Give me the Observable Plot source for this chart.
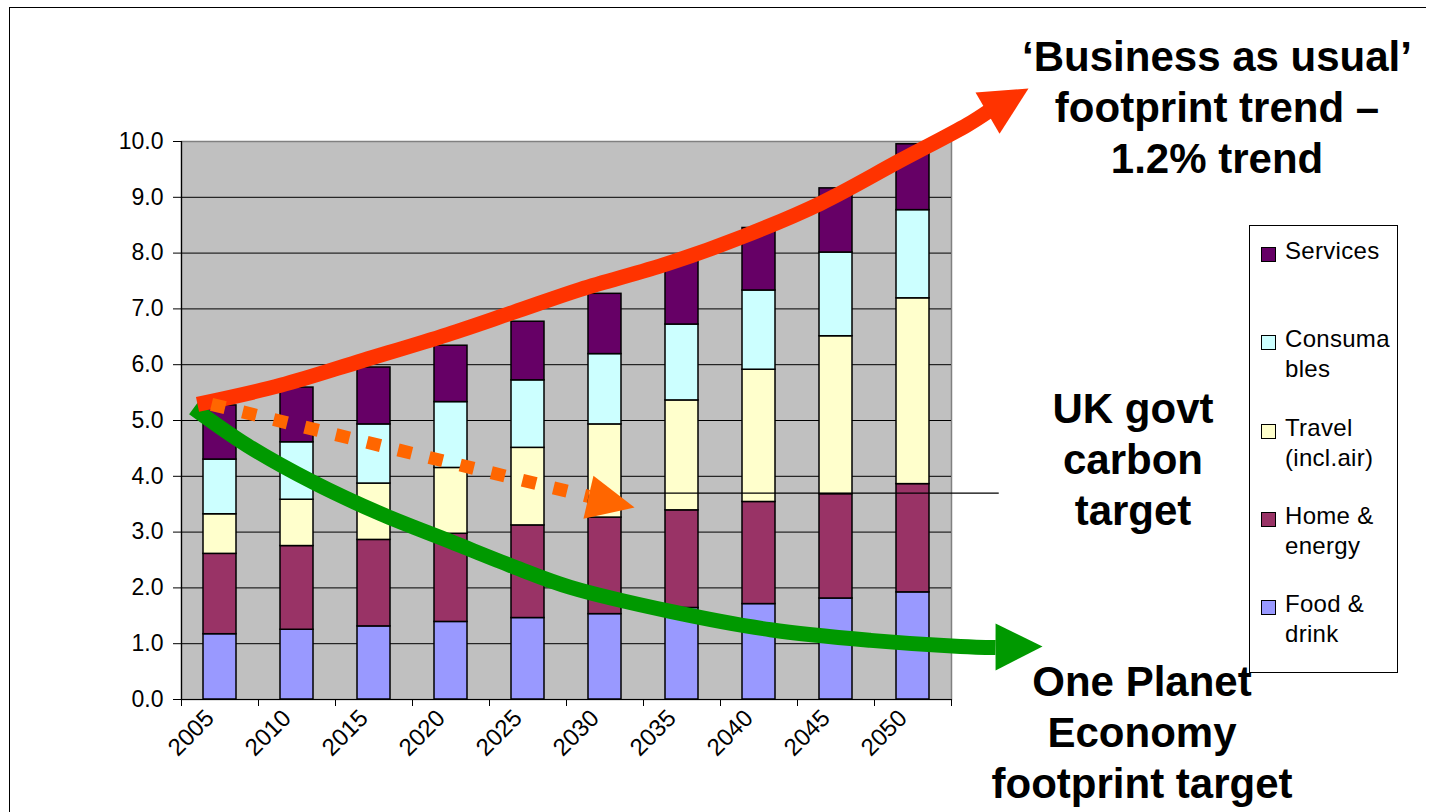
<!DOCTYPE html>
<html><head><meta charset="utf-8">
<script src="https://cdn.jsdelivr.net/npm/d3@7"></script>
<script src="https://cdn.jsdelivr.net/npm/@observablehq/plot@0.6"></script>
<style>
body{margin:0;background:#fff;}
#wrap{position:relative;width:1440px;height:812px;overflow:hidden;font-family:"Liberation Sans",Arial,sans-serif;background:#fff;}
#wrap svg{position:absolute;left:0;top:0;}
.border{position:absolute;left:9px;top:7px;width:1416px;height:900px;border-left:1px solid #000;border-top:1px solid #000;}
.note{position:absolute;font-weight:bold;font-size:42px;line-height:51px;text-align:center;color:#000;white-space:nowrap;transform:translateX(-50%);}
#legend{position:absolute;left:1249px;top:225px;width:147px;height:446px;border:1px solid #000;background:#fff;}
.sw{position:absolute;left:11px;width:13px;height:13px;border:1px solid #000;}
.lt{position:absolute;left:35px;font-size:24px;line-height:30px;letter-spacing:0.3px;color:#000;white-space:nowrap;}
</style></head>
<body><div id="wrap"><div class="border"></div></div>
<script>
// ---- data ----
const years = [2005, 2010, 2015, 2020, 2025, 2030, 2035, 2040, 2045, 2050];
const categories = ["Food & drink", "Home & energy", "Travel (incl.air)", "Consumables", "Services"];
const colors = ["#9999FF", "#993366", "#FFFFCC", "#CCFFFF", "#660066"];
const foodDrink   = [1.17, 1.25, 1.31, 1.39, 1.46, 1.53, 1.64, 1.71, 1.81, 1.92];
const homeEnergy  = [1.44, 1.50, 1.55, 1.58, 1.66, 1.73, 1.75, 1.83, 1.87, 1.94];
const travel      = [0.71, 0.83, 1.01, 1.18, 1.39, 1.67, 1.97, 2.37, 2.83, 3.33];
const consumables = [0.98, 1.03, 1.06, 1.18, 1.21, 1.26, 1.36, 1.42, 1.50, 1.58];
const services    = [0.97, 0.98, 1.02, 1.01, 1.05, 1.08, 1.16, 1.12, 1.15, 1.18];
const legendOrder = ["Services", "Consumables", "Travel (incl.air)", "Home & energy", "Food & drink"];
const legendLines = {
  "Services": ["Services"],
  "Consumables": ["Consuma", "bles"],
  "Travel (incl.air)": ["Travel", "(incl.air)"],
  "Home & energy": ["Home &", "energy"],
  "Food & drink": ["Food &", "drink"]
};
const yTicks = [0, 1, 2, 3, 4, 5, 6, 7, 8, 9, 10];
const gridValues = [1, 2, 3, 4, 5, 6, 7, 8, 9];
const xTickBounds = [2005, 2010, 2015, 2020, 2025, 2030, 2035, 2040, 2045, 2050, 2055];
const xLabels = ["2005", "2010", "2015", "2020", "2025", "2030", "2035", "2040", "2045", "2050"];

// annotation curves (year, footprint)
const bauYear = [2006.04, 2011.43, 2016.82, 2022.27, 2026.56, 2030.91, 2036.56, 2041.49, 2046.49, 2051.69, 2056.04, 2057.40];
const bauValue = [5.29, 5.63, 6.08, 6.54, 6.94, 7.35, 7.81, 8.30, 8.89, 9.66, 10.30, 10.54];
const bauHeadYear = [2056.56, 2060.00, 2058.12];
const bauHeadValue = [10.88, 10.95, 10.14];
const opeYear = [2005.78, 2009.29, 2013.57, 2017.92, 2022.47, 2026.56, 2030.26, 2036.75, 2043.25, 2049.74, 2055.58, 2057.86];
const opeValue = [5.22, 4.55, 3.89, 3.33, 2.83, 2.38, 2.01, 1.58, 1.25, 1.06, 0.95, 0.93];
const opeHeadYear = [2057.86, 2060.91, 2057.86];
const opeHeadValue = [1.36, 0.95, 0.52];
const ukYear = [2006.95, 2031.43];
const ukValue = [5.29, 3.64];
const ukHeadYear = [2031.75, 2034.42, 2031.10];
const ukHeadValue = [4.01, 3.44, 3.24];
const ukTargetValue = [3.7];
const ukTargetFrom = 2033.5, ukTargetTo = 2058.1;

const notes = [
  {lines: ["\u2018Business as usual\u2019", "footprint trend \u2013", "1.2% trend"]},
  {lines: ["UK govt", "carbon", "target"]},
  {lines: ["One Planet", "Economy", "footprint target"]}
];
// ---- build tables ----
const series = [foodDrink, homeEnergy, travel, consumables, services];
const rows = [];
years.forEach((yr, i) => categories.forEach((c, j) => rows.push({year: yr, cat: c, value: series[j][i]})));
const pts = (xs, ys) => xs.map((x, i) => ({year: x, v: ys[i]}));

const chart = Plot.plot({
  width: 1440, height: 812,
  marginLeft: 181, marginRight: 489, marginTop: 141, marginBottom: 113,
  x: {domain: [2005, 2055], label: null},
  y: {domain: [0, 10], label: null},
  color: {domain: categories, range: colors},
  style: {fontFamily: "'Liberation Sans', Arial, sans-serif", fontSize: "23px", background: "transparent", overflow: "visible"},
  marks: [
    Plot.frame({fill: "#C0C0C0", stroke: "#808080", strokeWidth: 1.5}),
    Plot.ruleY(gridValues, {stroke: "#000", strokeWidth: 1}),
    Plot.rectY(rows, {x1: d => d.year, x2: d => d.year + 5, y: "value", fill: "cat", stroke: "#000", strokeWidth: 1.5, insetLeft: 22, insetRight: 22}),
    Plot.ruleY([0], {stroke: "#000", strokeWidth: 1.2}),
    Plot.ruleX([2005], {stroke: "#000", strokeWidth: 1.2}),
    Plot.axisY({ticks: yTicks, tickFormat: d => d.toFixed(1), tickSize: 8, tickPadding: 10, fontSize: 23, label: null}),
    Plot.axisX({ticks: xTickBounds, tickSize: 7, tickFormat: () => "", label: null}),
    Plot.text(xLabels, {x: d => +d, frameAnchor: "bottom", text: d => d, rotate: -45, textAnchor: "end", dx: 34, dy: 20, fontSize: 24}),
    Plot.ruleY(ukTargetValue, {x1: ukTargetFrom, x2: ukTargetTo, stroke: "#000", strokeWidth: 1.2}),
    Plot.line(pts(opeYear, opeValue), {x: "year", y: "v", stroke: "#009900", strokeWidth: 15, curve: "catmull-rom", strokeLinecap: "butt"}),
    Plot.line(pts(opeHeadYear, opeHeadValue), {x: "year", y: "v", fill: "#009900", stroke: "none"}),
    Plot.line(pts(bauYear, bauValue), {x: "year", y: "v", stroke: "#FF3300", strokeWidth: 15, curve: "catmull-rom", strokeLinecap: "butt"}),
    Plot.line(pts(bauHeadYear, bauHeadValue), {x: "year", y: "v", fill: "#FF3300", stroke: "none"}),
    Plot.line(pts(ukYear, ukValue), {x: "year", y: "v", stroke: "#FF6600", strokeWidth: 13, strokeDasharray: "14 18", strokeLinecap: "butt"}),
    Plot.line(pts(ukHeadYear, ukHeadValue), {x: "year", y: "v", fill: "#FF6600", stroke: "none"})
  ]
});
const wrap = document.getElementById("wrap");
wrap.appendChild(chart);

// annotation notes
const notePos = [{cx: 1217, top: 31}, {cx: 1133, top: 383}, {cx: 1142, top: 656}];
notes.forEach((n, i) => {
  const d = document.createElement("div");
  d.className = "note";
  d.style.left = notePos[i].cx + "px";
  d.style.top = notePos[i].top + "px";
  d.innerHTML = n.lines.map(s => s.replace(/&/g, "&amp;")).join("<br>");
  wrap.appendChild(d);
});

// legend
const lg = document.createElement("div");
lg.id = "legend";
legendOrder.forEach((c, i) => {
  const base = 35 + i * 88.3;
  const sw = document.createElement("div");
  sw.className = "sw";
  sw.style.top = (base - 14) + "px";
  sw.style.background = colors[categories.indexOf(c)];
  lg.appendChild(sw);
  const t = document.createElement("div");
  t.className = "lt";
  t.style.top = (base - 25) + "px";
  t.innerHTML = legendLines[c].map(s => s.replace(/&/g, "&amp;")).join("<br>");
  lg.appendChild(t);
});
wrap.appendChild(lg);
</script></body></html>
